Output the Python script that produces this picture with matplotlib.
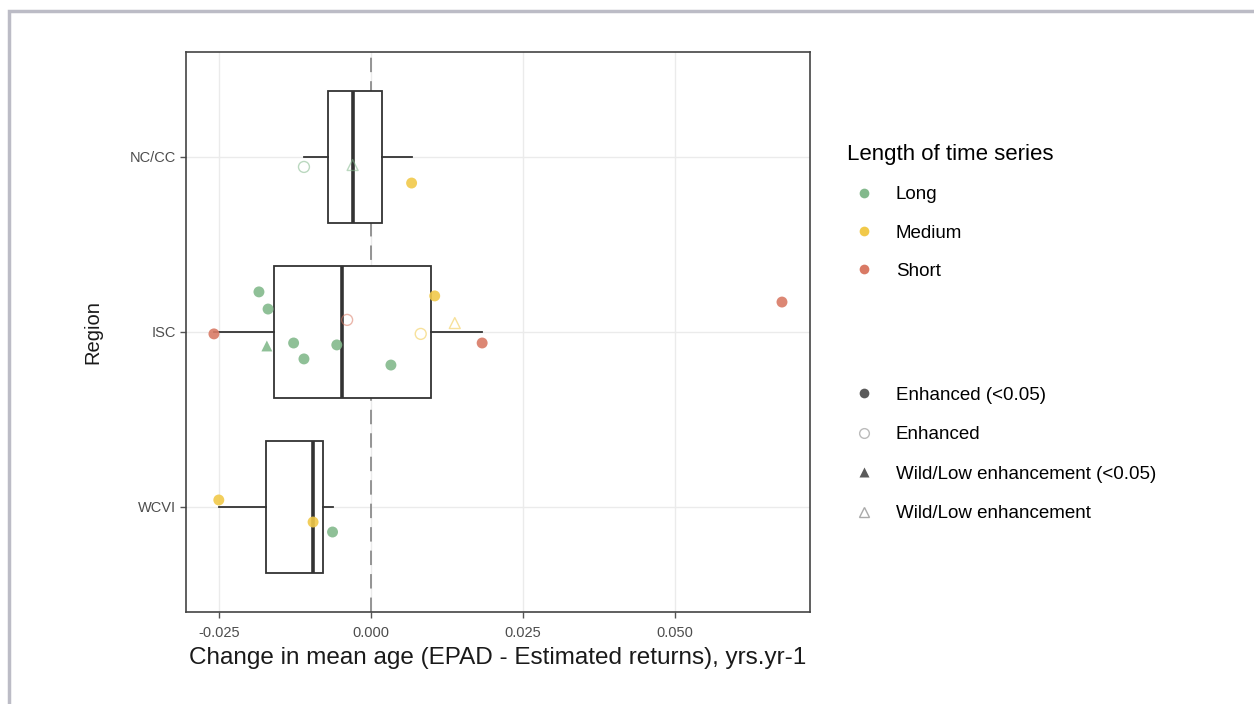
import numpy as np
import matplotlib.pyplot as plt
from matplotlib.lines import Line2D
from matplotlib.patches import Rectangle

plt.rcParams['font.family'] = ['Liberation Sans', 'DejaVu Sans']

# Regions, top to bottom
regions = ['NC/CC', 'ISC', 'WCVI']
region_pos = {'NC/CC': 3, 'ISC': 2, 'WCVI': 1}

# One row per stock: region, change in mean age, series length, type, significant
point_region = ['NC/CC', 'NC/CC', 'NC/CC',
                'ISC', 'ISC', 'ISC', 'ISC', 'ISC', 'ISC', 'ISC',
                'ISC', 'ISC', 'ISC', 'ISC', 'ISC', 'ISC', 'ISC',
                'WCVI', 'WCVI', 'WCVI']
point_value = [-0.0110, -0.0030, 0.0067,
               -0.0258, -0.0184, -0.0171, -0.0169, -0.0127, -0.0110, -0.0056,
               -0.0039, 0.0033, 0.0082, 0.0105, 0.0138, 0.0183, 0.0676,
               -0.0250, -0.0095, -0.0063]
point_length = ['Long', 'Long', 'Medium',
                'Short', 'Long', 'Long', 'Long', 'Long', 'Long', 'Long',
                'Short', 'Long', 'Medium', 'Medium', 'Medium', 'Short', 'Short',
                'Medium', 'Medium', 'Long']
point_type = ['Enhanced', 'Wild', 'Enhanced',
              'Enhanced', 'Enhanced', 'Wild', 'Enhanced', 'Enhanced', 'Enhanced', 'Enhanced',
              'Enhanced', 'Enhanced', 'Enhanced', 'Enhanced', 'Wild', 'Enhanced', 'Enhanced',
              'Enhanced', 'Enhanced', 'Enhanced']
point_signif = [False, False, True,
                True, True, True, True, True, True, True,
                False, True, False, True, False, True, True,
                True, True, True]
# vertical jitter, in category units
point_jitter = [-0.057, -0.046, -0.149,
                -0.011, 0.229, -0.080, 0.131, -0.063, -0.154, -0.074,
                0.069, -0.189, -0.011, 0.206, 0.051, -0.063, 0.171,
                0.040, -0.086, -0.143]

length_levels = ['Long', 'Medium', 'Short']
length_colors = {'Long': '#83b98c', 'Medium': '#f1c94a', 'Short': '#d97a65'}

fig = plt.figure(figsize=(12.54, 7.04), dpi=100)
ax = fig.add_axes([0.1483, 0.1307, 0.4976, 0.7955])

# grid like theme_bw
ax.set_axisbelow(True)
ax.grid(True, color='#ebebeb', linewidth=1.0)

ax.axvline(0, color='#8c8c8c', linestyle=(0, (8, 5)), linewidth=1.3, zorder=1)

# boxplots from the stock values
vals = np.array(point_value)
regs = np.array(point_region)
data = [vals[regs == r] for r in regions]
pos = [region_pos[r] for r in regions]
ax.boxplot(data, positions=pos, vert=False, widths=0.75, whis=1.5,
           showfliers=False, patch_artist=True,
           boxprops=dict(facecolor='white', edgecolor='#333333', linewidth=1.3),
           medianprops=dict(color='#333333', linewidth=2.6),
           whiskerprops=dict(color='#333333', linewidth=1.3),
           capprops=dict(linewidth=0),
           zorder=2)

for r, v, ln, t, s, j in zip(point_region, point_value, point_length,
                             point_type, point_signif, point_jitter):
    c = length_colors[ln]
    m = 'o' if t == 'Enhanced' else '^'
    y = region_pos[r] + j
    if s:
        ax.scatter(v, y, s=62, marker=m, color=c, edgecolors='none', alpha=0.9, zorder=3)
    else:
        ax.scatter(v, y, s=62, marker=m, facecolors='none', edgecolors=c,
                   linewidths=1.0, alpha=0.55, zorder=3)

ax.set_xlim(-0.0304, 0.0722)
ax.set_ylim(0.4, 3.6)
ax.set_xticks([-0.025, 0.0, 0.025, 0.05])
ax.set_xticklabels(['-0.025', '0.000', '0.025', '0.050'])
ax.set_yticks(pos)
ax.set_yticklabels(regions)
ax.tick_params(axis='both', labelsize=10.5, colors='#555555',
               length=4, width=1, labelcolor='#4d4d4d')
ax.tick_params(axis='x', pad=6)
ax.tick_params(axis='y', pad=3)
for sp in ax.spines.values():
    sp.set_color('#444444')
    sp.set_linewidth(1.2)

ax.set_xlabel('Change in mean age (EPAD - Estimated returns), yrs.yr-1',
              fontsize=17.5, color='#1a1a1a', labelpad=5)
ax.set_ylabel('Region', fontsize=14.5, color='#1a1a1a', labelpad=20)

# legend for series length
len_handles = [Line2D([], [], marker='o', linestyle='none', markersize=7,
                      markerfacecolor=length_colors[k], markeredgecolor='none')
               for k in length_levels]
leg1 = fig.legend(len_handles, length_levels, title='Length of time series',
                  loc='upper left', bbox_to_anchor=(0.6754, 0.795), frameon=False,
                  fontsize=13.5, title_fontsize=16, labelspacing=1.12,
                  handlelength=1.85, handletextpad=0.75, borderaxespad=0,
                  borderpad=0)
leg1._legend_box.align = 'left'

# legend for stock type
type_labels = ['Enhanced (<0.05)', 'Enhanced',
               'Wild/Low enhancement (<0.05)', 'Wild/Low enhancement']
type_handles = [
    Line2D([], [], marker='o', linestyle='none', markersize=7,
           markerfacecolor='#5a5a5a', markeredgecolor='none'),
    Line2D([], [], marker='o', linestyle='none', markersize=7,
           markerfacecolor='none', markeredgecolor='#bbbbbb'),
    Line2D([], [], marker='^', linestyle='none', markersize=7,
           markerfacecolor='#5a5a5a', markeredgecolor='none'),
    Line2D([], [], marker='^', linestyle='none', markersize=7,
           markerfacecolor='none', markeredgecolor='#aaaaaa'),
]
fig.legend(type_handles, type_labels, loc='upper left',
           bbox_to_anchor=(0.6754, 0.451), frameon=False, fontsize=13.5,
           labelspacing=1.2, handlelength=1.85, handletextpad=0.75,
           borderaxespad=0, borderpad=0)

# outer frame
fig.patches.append(Rectangle((9 / 1254, -0.05), 1.2, 1 - 11 / 704 + 0.05,
                             transform=fig.transFigure, fill=False,
                             edgecolor='#bcbcc6', linewidth=2.5))

fig.savefig('out.png', dpi=100)
